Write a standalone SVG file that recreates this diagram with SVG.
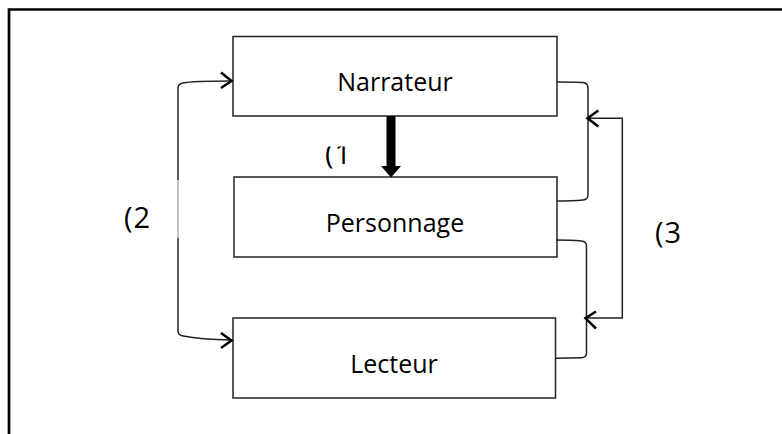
<svg xmlns="http://www.w3.org/2000/svg" width="782" height="434" viewBox="0 0 782 434">
<style>
.box{fill:#fff;stroke:#222;stroke-width:1.5}
.lbl{font-family:"Open Sans","Noto Sans",sans-serif;font-size:25px;fill:#000;text-anchor:middle}
.num{font-family:"Open Sans","Noto Sans",sans-serif;font-size:29px;fill:#000;letter-spacing:1px}
.conn{fill:none;stroke:#222;stroke-width:1.5}
.chev{fill:none;stroke:#000;stroke-width:2.5;stroke-linecap:butt;stroke-linejoin:miter}
</style>
<defs>
<clipPath id="clip1"><rect x="300" y="146.5" width="80" height="30"/></clipPath>
</defs>
<rect width="782" height="434" fill="#fff"/>
<path d="M9,434 V9.5 H782" fill="none" stroke="#000" stroke-width="2.7"/>
<g id="narrateur">
<rect class="box" x="233" y="36.5" width="324" height="79.5"/>
<text class="lbl" x="395" y="91">Narrateur</text>
</g>
<g id="personnage">
<rect class="box" x="234" y="177" width="323" height="80"/>
<text class="lbl" x="395" y="232">Personnage</text>
</g>
<g id="lecteur">
<rect class="box" x="233" y="318" width="322.5" height="80"/>
<text class="lbl" x="394" y="373">Lecteur</text>
</g>
<g id="connectors">
<path class="conn" d="M231,81 C200,81 188,82 183,83 Q178,84 178,88 V180"/>
<path d="M178,180 V238" stroke="#888" stroke-width="1" fill="none"/>
<path class="conn" d="M178,238 V331 Q178,335 183,336 C188,337 200,339.5 231,340"/>
<path class="chev" d="M221,72.5 L231.5,81 L221,88"/>
<path class="chev" d="M221,333 L231.5,340.5 L221,348"/>
<path d="M386.5,116 H395.5 V166 H401 L391,177.5 L381,166 H386.5 Z" fill="#000"/>
<path class="conn" d="M557,82 C570,82 578,82 583,82.5 Q588,83 588,88 V195 Q588,199.5 583,200 C578,200.5 570,201 557,201"/>
<path class="conn" d="M556,240 C568,240 576,240.5 581.5,241 Q586.5,241.5 586.5,246 V353 Q586.5,357.5 581.5,357.8 C576,358 568,358.3 556,358.3"/>
<path class="conn" d="M587,118.3 H622.3 V318 H584.5"/>
<path class="chev" d="M598.3,110.5 L587.5,118.3 L598.3,126.5"/>
<path class="chev" d="M596,311.5 L585.5,318.3 L596,328.5"/>
</g>
<g id="labels">
<text class="num" x="325" y="164" clip-path="url(#clip1)">(1</text>
<text class="num" x="124" y="228">(2</text>
<text class="num" x="655" y="242.5">(3</text>
</g>
</svg>
